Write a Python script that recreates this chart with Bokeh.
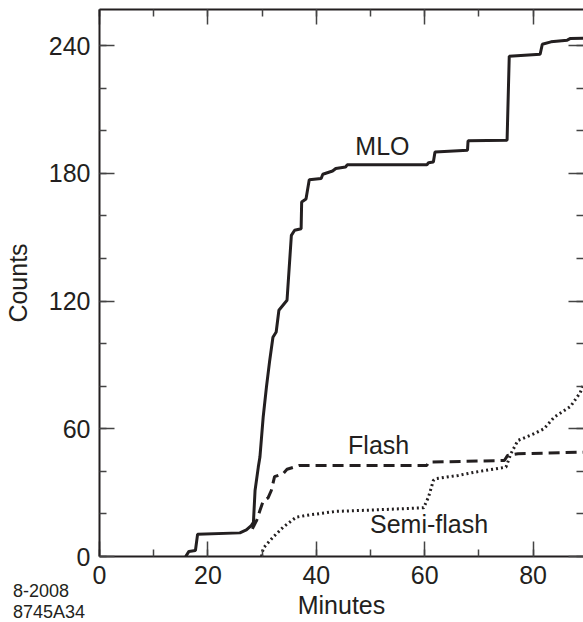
from bokeh.plotting import figure
from bokeh.layouts import column
from bokeh.models import LinearAxis, SingleIntervalTicker, Label, Range1d, CustomJSTickFormatter, Div
from bokeh.embed import file_html
from bokeh.resources import INLINE

# ---- data ----
mlo_x = [15.9, 16.5, 17.7, 18.1, 25.9, 27.1, 28.0, 28.4, 28.7, 29.3, 29.6, 30.2, 30.8,
         31.4, 32.0, 32.6, 33.1, 34.6, 35.4, 36.0, 37.2, 37.3, 38.1, 38.7, 40.9, 41.2,
         43.0, 43.6, 45.4, 45.7, 60.4, 60.7, 61.6, 61.9, 67.9, 68.0, 75.2, 75.6, 81.3,
         81.7, 83.3, 86.3, 86.9, 89.3]
mlo_y = [0, 2.4, 2.8, 10.5, 11.1, 12.5, 14.5, 16, 31, 42, 46.7, 65.5, 79.6,
         92, 103, 105.5, 115.7, 120.4, 150.9, 153.3, 154, 166.6, 168, 177, 177.6, 179.6,
         181.1, 182.3, 183, 184, 184, 185, 185.3, 190, 190.9, 195.3, 195.6, 235, 236,
         240.7, 241.8, 242.6, 243.4, 243.5]

flash_x = [28.2, 28.6, 29.0, 29.6, 30.2, 31.1, 31.7, 32.3, 33.9, 34.6, 36.9, 60.4, 60.7,
           74.7, 75.3, 77.2, 89.3]
flash_y = [13, 15, 17, 21.6, 26, 27.5, 31, 37.5, 39, 41, 42.8, 42.8, 44.3,
           45.1, 47.5, 48.3, 49]

semi_x = [29.9, 30.2, 32.0, 33.9, 36.3, 38.7, 43.6, 50.9, 59.8, 60.7, 61.6, 61.9, 66.2,
          69.2, 75.0, 75.9, 77.2, 80.2, 82.0, 83.9, 86.9, 88.7, 89.3]
semi_y = [0, 3.8, 9, 13.8, 18.5, 19.5, 21.2, 21.9, 22.9, 27.9, 35.7, 36.5, 38.1,
          39.6, 42, 48.3, 54.5, 57.7, 60, 65.5, 70.5, 77, 81]

x_label = "Minutes"
y_label = "Counts"
curve_names = ["MLO", "Flash", "Semi-flash"]
name_x = [52.2, 51.5, 60.8]
name_y = [188.5, 48, 11]
stamp_lines = ["8-2008", "8745A34"]

FONT = "Liberation Sans"
INK = "#231f20"

fig = figure(width=583, height=622, output_backend="svg", toolbar_location=None,
             x_range=Range1d(0, 89.3), y_range=Range1d(0, 257),
             min_border_left=95, min_border_right=0, min_border_top=9, min_border_bottom=66,
             x_axis_type=None, y_axis_type=None)
fig.outline_line_color = None
fig.xgrid.visible = False
fig.ygrid.visible = False
fig.background_fill_color = "white"
fig.border_fill_color = "white"


def style(ax, labels=True):
    ax.axis_line_color = INK
    ax.axis_line_width = 2
    ax.major_tick_in = 15
    ax.major_tick_out = 0
    ax.minor_tick_in = 7
    ax.minor_tick_out = 0
    ax.major_tick_line_color = "#444"
    ax.major_tick_line_width = 1.5
    ax.minor_tick_line_color = "#444"
    ax.minor_tick_line_width = 1.5
    if labels:
        ax.major_label_text_font = FONT
        ax.major_label_text_font_size = "25px"
        ax.major_label_text_color = INK
    else:
        ax.formatter = CustomJSTickFormatter(code="return ''")
        ax.major_label_standoff = 0


xb = LinearAxis(ticker=SingleIntervalTicker(interval=20, num_minor_ticks=2))
style(xb)
xb.major_label_standoff = 9
xb.axis_label = x_label
xb.axis_label_text_font = FONT
xb.axis_label_text_font_size = "25px"
xb.axis_label_text_font_style = "normal"
xb.axis_label_text_color = INK
xb.axis_label_standoff = 4
fig.add_layout(xb, "below")

yl = LinearAxis(ticker=SingleIntervalTicker(interval=60, num_minor_ticks=3))
style(yl)
yl.major_label_standoff = 9
yl.axis_label = y_label
yl.axis_label_text_font = FONT
yl.axis_label_text_font_size = "25px"
yl.axis_label_text_font_style = "normal"
yl.axis_label_text_color = INK
yl.axis_label_standoff = 14
fig.add_layout(yl, "left")

xt = LinearAxis(ticker=SingleIntervalTicker(interval=20, num_minor_ticks=2))
style(xt, labels=False)
fig.add_layout(xt, "above")

yr = LinearAxis(ticker=SingleIntervalTicker(interval=60, num_minor_ticks=3))
style(yr, labels=False)
yr.axis_line_color = None
fig.add_layout(yr, "right")

fig.line(mlo_x, mlo_y, line_color=INK, line_width=3)
fig.line(flash_x, flash_y, line_color=INK, line_width=3, line_dash="11 6")
fig.line(semi_x, semi_y, line_color=INK, line_width=3, line_dash="2 3")

for name, nx, ny in zip(curve_names, name_x, name_y):
    fig.add_layout(Label(x=nx, y=ny, y_offset=9, text=name, text_align="center",
                         text_baseline="alphabetic",
                         text_font=FONT, text_font_size="25px", text_color=INK))

# figure stamp at the lower left, overlapping the bottom margin of the plot
stamp = Div(
    text=('<div style="font-family:\'Liberation Sans\';font-size:18px;line-height:20.5px;'
          'color:%s;white-space:nowrap">%s</div>' % (INK, "<br>".join(stamp_lines))),
    width=110, height=41, margin=(-41, 0, 0, 13))

p = column(fig, stamp, spacing=0)

open("out.html", "w").write(file_html(p, INLINE))
